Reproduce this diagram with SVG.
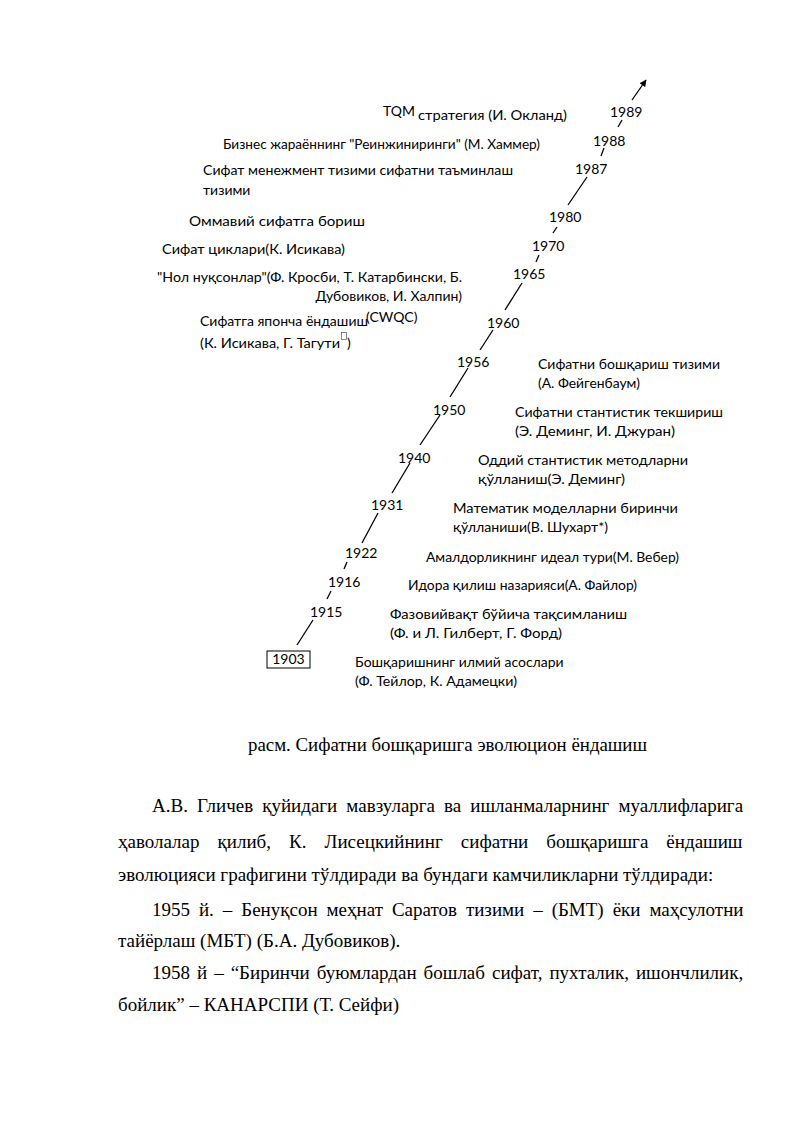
<svg xmlns="http://www.w3.org/2000/svg" width="800" height="1131" viewBox="0 0 800 1131">
<defs>
<marker id="arr" viewBox="0 0 10 10" refX="9" refY="5" markerWidth="7" markerHeight="7" orient="auto" markerUnits="userSpaceOnUse">
<path d="M0,0 L10,5 L0,10 Z" fill="#000"/>
</marker>
<style>
.d{font-family:Lato,"Noto Sans","Liberation Sans",sans-serif;font-size:14px;fill:#000}
.y{font-family:Lato,"Noto Sans","Liberation Sans",sans-serif;font-size:14px;fill:#000}
.b{font-family:"Liberation Serif","Times New Roman",serif;font-size:19px;fill:#000}
.c{stroke:#000;stroke-width:1.3;fill:none}
</style>
</defs>
<rect width="800" height="1131" fill="#fff"/>

<g id="connectors">
<line class="c" x1="297" y1="645" x2="313" y2="620"/>
<line class="c" x1="327" y1="599" x2="331" y2="591"/>
<line class="c" x1="344" y1="569" x2="347" y2="562"/>
<line class="c" x1="378" y1="513" x2="362" y2="543"/>
<line class="c" x1="410" y1="463" x2="392" y2="493"/>
<line class="c" x1="440" y1="415" x2="420" y2="445"/>
<line class="c" x1="468" y1="368" x2="450" y2="397"/>
<line class="c" x1="493" y1="330" x2="480" y2="350"/>
<line class="c" x1="522" y1="283" x2="505" y2="310"/>
<line class="c" x1="539" y1="255" x2="536" y2="262"/>
<line class="c" x1="557" y1="227" x2="553" y2="233"/>
<line class="c" x1="587" y1="177" x2="568" y2="205"/>
<line class="c" x1="604" y1="148" x2="601" y2="156"/>
<line class="c" x1="622" y1="120" x2="618" y2="127"/>
<line class="c" x1="632" y1="100" x2="646" y2="80" marker-end="url(#arr)"/>
</g>

<g id="y1903"><rect x="267" y="651" width="43" height="17" fill="none" stroke="#000" stroke-width="1"/><text class="y" x="288.5" y="664" text-anchor="middle">1903</text></g>
<g id="y1915"><text class="y" x="310" y="617">1915</text></g>
<g id="y1916"><text class="y" x="328" y="587">1916</text></g>
<g id="y1922"><text class="y" x="345" y="558">1922</text></g>
<g id="y1931"><text class="y" x="371" y="510">1931</text></g>
<g id="y1940"><text class="y" x="398" y="463">1940</text></g>
<g id="y1950"><text class="y" x="433" y="415">1950</text></g>
<g id="y1956"><text class="y" x="457" y="367">1956</text></g>
<g id="y1960"><text class="y" x="487" y="328">1960</text></g>
<g id="y1965"><text class="y" x="513" y="279">1965</text></g>
<g id="y1970"><text class="y" x="532" y="251">1970</text></g>
<g id="y1980"><text class="y" x="549" y="222">1980</text></g>
<g id="y1987"><text class="y" x="575" y="174">1987</text></g>
<g id="y1988"><text class="y" x="593" y="146">1988</text></g>
<g id="y1989"><text class="y" x="610" y="117">1989</text></g>

<g id="lbl-tqm">
<text class="d" x="383" y="116">TQM</text>
<text class="d" x="418" y="120" textLength="149" lengthAdjust="spacingAndGlyphs">стратегия (И. Окланд)</text>
</g>
<g id="lbl-reeng"><text class="d" x="223" y="149" textLength="317" lengthAdjust="spacingAndGlyphs">Бизнес жараённинг "Реинжиниринги" (М. Хаммер)</text></g>
<g id="lbl-qms">
<text class="d" x="203" y="175" textLength="310" lengthAdjust="spacingAndGlyphs">Сифат менежмент тизими сифатни таъминлаш</text>
<text class="d" x="203" y="195">тизими</text>
</g>
<g id="lbl-mass"><text class="d" x="189" y="226" textLength="176" lengthAdjust="spacingAndGlyphs">Оммавий сифатга бориш</text></g>
<g id="lbl-circles"><text class="d" x="162" y="254" textLength="183" lengthAdjust="spacingAndGlyphs">Сифат циклари(К. Исикава)</text></g>
<g id="lbl-zero">
<text class="d" x="157" y="282" textLength="305" lengthAdjust="spacingAndGlyphs">"Нол нуқсонлар"(Ф. Кросби, Т. Катарбински, Б.</text>
<text class="d" x="462" y="301" text-anchor="end">Дубовиков, И. Халпин)</text>
</g>
<g id="lbl-japan">
<text class="d" x="200" y="326" textLength="168" lengthAdjust="spacingAndGlyphs">Сифатга японча ёндашиш</text>
<text class="d" x="366" y="322">(CWQC)</text>
<text class="d" x="200" y="348" textLength="140" lengthAdjust="spacingAndGlyphs">(К. Исикава, Г. Тагути</text>
<rect x="341.5" y="332.5" width="5" height="7" fill="none" stroke="#555" stroke-width="0.7"/>
<text class="d" x="347" y="348">)</text>
</g>

<g id="lbl-feig">
<text class="d" x="538" y="369" textLength="182" lengthAdjust="spacingAndGlyphs">Сифатни бошқариш тизими</text>
<text class="d" x="538" y="388" textLength="102" lengthAdjust="spacingAndGlyphs">(А. Фейгенбаум)</text>
</g>
<g id="lbl-stat">
<text class="d" x="515" y="417" textLength="208" lengthAdjust="spacingAndGlyphs">Сифатни стантистик текшириш</text>
<text class="d" x="515" y="436" textLength="160" lengthAdjust="spacingAndGlyphs">(Э. Деминг, И. Джуран)</text>
</g>
<g id="lbl-simple">
<text class="d" x="478" y="465" textLength="210" lengthAdjust="spacingAndGlyphs">Оддий стантистик методларни</text>
<text class="d" x="478" y="484" textLength="147" lengthAdjust="spacingAndGlyphs">қўлланиш(Э. Деминг)</text>
</g>
<g id="lbl-math">
<text class="d" x="453" y="513" textLength="225" lengthAdjust="spacingAndGlyphs">Математик моделларни биринчи</text>
<text class="d" x="453" y="532" textLength="155" lengthAdjust="spacingAndGlyphs">қўлланиши(В. Шухарт*)</text>
</g>
<g id="lbl-weber"><text class="d" x="426" y="562" textLength="253" lengthAdjust="spacingAndGlyphs">Амалдорликнинг идеал тури(М. Вебер)</text></g>
<g id="lbl-fayol"><text class="d" x="408" y="590" textLength="229" lengthAdjust="spacingAndGlyphs">Идора қилиш назарияси(А. Файлор)</text></g>
<g id="lbl-gilb">
<text class="d" x="390" y="619" textLength="237" lengthAdjust="spacingAndGlyphs">Фазовийвақт бўйича тақсимланиш</text>
<text class="d" x="390" y="638" textLength="172" lengthAdjust="spacingAndGlyphs">(Ф. и Л. Гилберт, Г. Форд)</text>
</g>
<g id="lbl-taylor">
<text class="d" x="355" y="667">Бошқаришнинг илмий асослари</text>
<text class="d" x="355" y="686" textLength="162" lengthAdjust="spacingAndGlyphs">(Ф. Тейлор, К. Адамецки)</text>
</g>

<g id="caption"><text class="b" x="248" y="751" textLength="399" lengthAdjust="spacingAndGlyphs">расм. Сифатни бошқаришга эволюцион ёндашиш</text></g>

<g id="body">
<text class="b" x="152" y="812" word-spacing="4.3">А.В. Гличев қуйидаги мавзуларга ва ишланмаларнинг муаллифларига</text>
<text class="b" x="118" y="848" word-spacing="13.3">ҳаволалар қилиб, К. Лисецкийнинг сифатни бошқаришга ёндашиш</text>
<text class="b" x="118" y="881">эволюцияси графигини тўлдиради ва бундаги камчиликларни тўлдиради:</text>
<text class="b" x="152" y="916" word-spacing="4.2">1955 й. – Бенуқсон меҳнат Саратов тизими – (БМТ) ёки маҳсулотни</text>
<text class="b" x="118" y="947">тайёрлаш (МБТ) (Б.А. Дубовиков).</text>
<text class="b" x="152" y="979" word-spacing="2.25">1958 й – “Биринчи буюмлардан бошлаб сифат, пухталик, ишончлилик,</text>
<text class="b" x="118" y="1011">бойлик” – КАНАРСПИ (Т. Сейфи)</text>
</g>
</svg>
